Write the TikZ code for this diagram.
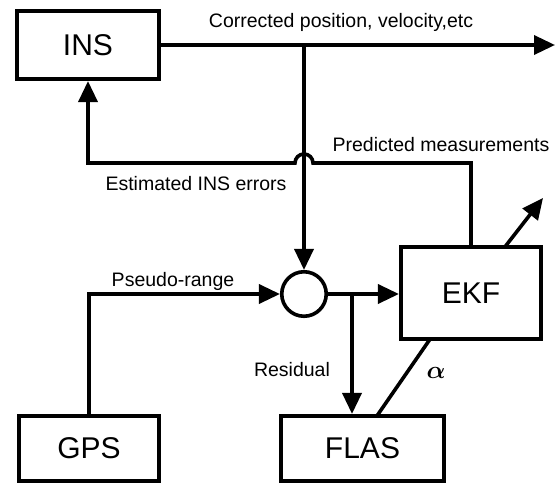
\documentclass[tikz,border=0pt]{standalone}
\usepackage{fontspec}
\setmainfont{Liberation Sans}
\usepackage{bm}
\usetikzlibrary{arrows.meta}
\begin{document}
\begin{tikzpicture}[x=1pt,y=-1pt, line width=3.6pt,
  blk/.style={draw, rectangle, inner sep=0pt, font=\fontsize{30}{30}\selectfont},
  lbl/.style={font=\fontsize{19.5}{20}\selectfont, inner sep=0pt, anchor=base},
  alph/.style={font=\fontsize{28}{28}\selectfont, inner sep=0pt, anchor=base},
  arr/.style={-{Triangle[length=21pt,width=19pt]}}]
\useasboundingbox (0,0) rectangle (560,485);
% blocks
\node[blk, minimum width=142.5pt, minimum height=68.5pt] (ins) at (88,45) {INS};
\node[blk, minimum width=140.5pt, minimum height=92.5pt] (ekf) at (471,293) {EKF};
\node[blk, minimum width=140.5pt, minimum height=65.5pt] (gps) at (89,448.5) {GPS};
\node[blk, minimum width=163.5pt, minimum height=65.5pt] (flas) at (362.5,448.5) {FLAS};
\node[draw, circle, minimum size=44.5pt, inner sep=0pt] (sum) at (304,294) {};
% helper coordinates
\coordinate (outend) at (555,45);
\coordinate (tap) at (304,45);
\coordinate (fbR) at (471,163);
\coordinate (hopR) at (313,163);
\coordinate (fbL) at (88,163);
\coordinate (gpsC) at (89,294);
\coordinate (br) at (352,294);
\coordinate (ekfd) at (505,246.8);
\coordinate (diagtip) at (543,198);
\coordinate (ekfa) at (430,339.2);
\coordinate (flasa) at (377,415.8);
% connectors
\draw[arr] (ins.east) -- (outend);
\draw[arr] (tap) -- (sum.north);
\draw[arr] (ekf.north) -- (fbR) -- (hopR) arc[start angle=0, end angle=-180, radius=9] -- (fbL) -- (ins.south);
\draw[arr] (gps.north) -- (gpsC) -- (sum.west);
\draw[arr] (sum.east) -- (sum.east -| ekf.west);
\draw[arr] (br) -- (br |- flas.north);
\draw[arr] (ekfd) -- (diagtip);
\draw (ekfa) -- (flasa);
% labels
\node[lbl] (t1) at (341,27) {Corrected position, velocity,etc};
\node[lbl] (t2) at (441,151) {Predicted measurements};
\node[lbl] (t3) at (196,190) {Estimated INS errors};
\node[lbl] (t4) at (173,286) {Pseudo-range};
\node[lbl] (t5) at (292,376) {Residual};
\node[alph] (alab) at (436,378) {$\bm{\alpha}$};
\end{tikzpicture}
\end{document}
